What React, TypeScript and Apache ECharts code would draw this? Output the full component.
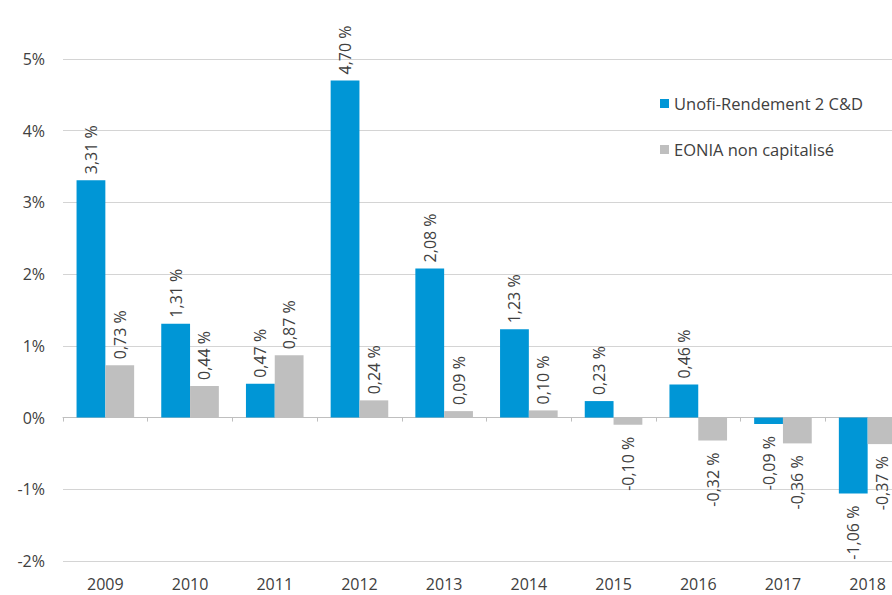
import React, { useEffect, useRef } from "react";
import * as echarts from "echarts";

const categories = ["2009", "2010", "2011", "2012", "2013", "2014", "2015", "2016", "2017", "2018"];
const unofiValues = [3.31, 1.31, 0.47, 4.7, 2.08, 1.23, 0.23, 0.46, -0.09, -1.06];
const eoniaValues = [0.73, 0.44, 0.87, 0.24, 0.09, 0.1, -0.1, -0.32, -0.36, -0.37];
const seriesNames = ["Unofi-Rendement 2 C&D", "EONIA non capitalisé"];
const yMin = -2;
const yMax = 5;
const yStep = 1;

const FONT = "Open Sans";
const TEXT = "#404040";

const fmt = (v: number) => v.toFixed(2).replace(".", ",") + " %";

const toItems = (vals: number[]) =>
  vals.map((v) => ({
    value: v,
    label: {
      position: v >= 0 ? "top" : "bottom",
      align: v >= 0 ? "left" : "right",
      distance: v >= 0 ? 6 : 12,
    },
  }));

export default function App() {
  const ref = useRef<HTMLDivElement>(null);
  useEffect(() => {
    if (!ref.current) return;
    const chart = echarts.init(ref.current, null, { renderer: "svg" });
    const labelBase = {
      show: true,
      rotate: 90,
      verticalAlign: "middle",
      fontFamily: FONT,
      fontSize: 16,
      color: TEXT,
      formatter: (p: any) => fmt(p.value),
    };
    chart.setOption({
      animation: false,
      backgroundColor: "#ffffff",
      grid: {
        left: 63,
        top: 59,
        width: 847,
        height: 502,
        containLabel: false,
        outerBoundsMode: "none",
      },
      legend: {
        orient: "vertical",
        left: 655,
        top: 90,
        icon: "rect",
        itemWidth: 9,
        itemHeight: 9,
        itemGap: 29,
        textStyle: { fontFamily: FONT, fontSize: 16.5, color: TEXT },
        data: seriesNames,
      },
      xAxis: [
        {
          type: "category",
          data: categories,
          axisLine: { show: true, onZero: true, lineStyle: { color: "#bfbfbf", width: 1 } },
          axisTick: { show: true, length: 4, lineStyle: { color: "#bfbfbf" } },
          axisLabel: { show: false },
          splitLine: { show: false },
        },
        {
          type: "category",
          data: categories,
          position: "bottom",
          axisLine: { show: false, onZero: false },
          axisTick: { show: false },
          axisLabel: { show: true, margin: 15, fontFamily: FONT, fontSize: 16, color: TEXT },
          splitLine: { show: false },
        },
      ],
      yAxis: {
        type: "value",
        min: yMin,
        max: yMax,
        interval: yStep,
        axisLine: { show: false },
        axisTick: { show: false },
        axisLabel: {
          margin: 18,
          fontFamily: FONT,
          fontSize: 16,
          color: TEXT,
          formatter: (v: number) => `${v}%`,
        },
        splitLine: { show: true, lineStyle: { color: "#d4d4d4", width: 1 } },
      },
      series: [
        {
          name: seriesNames[0],
          type: "bar",
          xAxisIndex: 0,
          data: toItems(unofiValues),
          itemStyle: { color: "#0096d6" },
          barGap: "0%",
          barCategoryGap: "32%",
          label: labelBase,
        },
        {
          name: seriesNames[1],
          type: "bar",
          xAxisIndex: 0,
          data: toItems(eoniaValues),
          itemStyle: { color: "#bfbfbf" },
          barGap: "0%",
          barCategoryGap: "32%",
          label: labelBase,
        },
      ],
    });
    return () => chart.dispose();
  }, []);
  return (
    <div
      ref={ref}
      style={{ position: "absolute", left: 0, top: 0, width: 892, height: 595, overflow: "hidden" }}
    />
  );
}
